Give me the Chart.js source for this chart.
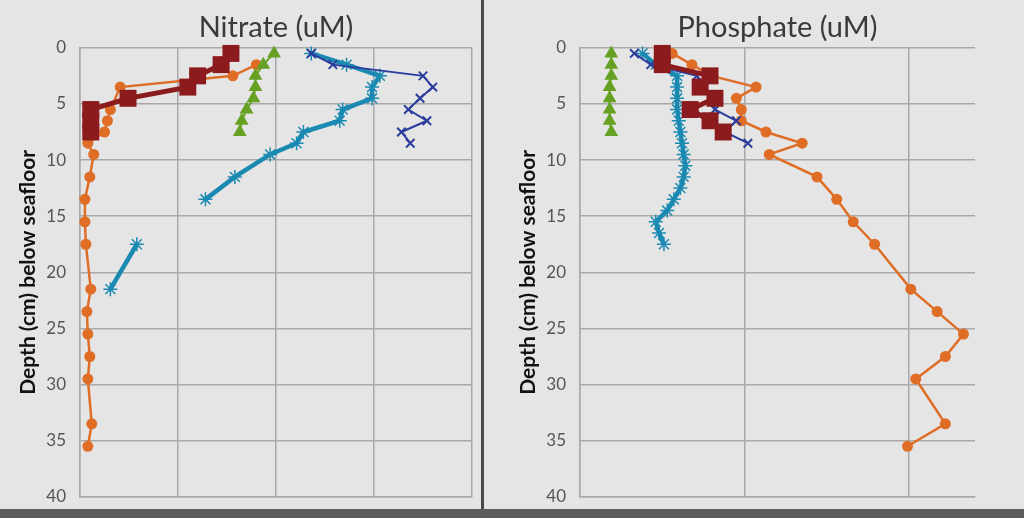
<!DOCTYPE html>
<html>
<head>
<meta charset="utf-8">
<script src="https://cdn.jsdelivr.net/npm/chart.js@4.4.1/dist/chart.umd.min.js"></script>
<style>
  html, body { margin: 0; padding: 0; }
  body { width: 1024px; height: 518px; background: #e5e5e5; position: relative; overflow: hidden; }
  .panel { position: absolute; top: 0; height: 521px; }
  #left { left: 0; width: 481px; }
  #right { left: 485px; width: 539px; }
  #divider { position: absolute; left: 481px; top: 0; width: 3px; height: 518px; background: #4a4a4a; }
  #strip { position: absolute; left: 0; top: 509px; width: 1024px; height: 9px; background: #5c5c5c; }
</style>
</head>
<body>
<div class="panel" id="left"><canvas id="nitrate"></canvas></div>
<div class="panel" id="right"><canvas id="phosphate"></canvas></div>
<div id="divider"></div>
<div id="strip"></div>
<script>
// depth (cm) categories
var depth8 = [0.5, 1.5, 2.5, 3.5, 4.5, 5.5, 6.5, 7.5];
var depth9 = [0.5, 1.5, 2.5, 3.5, 4.5, 5.5, 6.5, 7.5, 8.5];
var depthTicks = [0, 5, 10, 15, 20, 25, 30, 35, 40];

// Nitrate (uM)
var nitOrangeDepth = [1.5, 2.5, 3.5, 5.5, 6.5, 7.5, 8.5, 9.5, 11.5, 13.5, 15.5, 17.5, 21.5, 23.5, 25.5, 27.5, 29.5, 33.5, 35.5];
var nitOrange = [1.80, 1.56, 0.41, 0.31, 0.28, 0.25, 0.08, 0.14, 0.10, 0.05, 0.05, 0.06, 0.11, 0.07, 0.08, 0.10, 0.08, 0.12, 0.08];
var nitRed = [1.54, 1.44, 1.20, 1.10, 0.49, 0.11, 0.11, 0.11];
var nitGreen = [1.98, 1.87, 1.79, 1.79, 1.77, 1.70, 1.65, 1.63];
var nitNavy = [2.36, 2.58, 3.50, 3.60, 3.47, 3.35, 3.54, 3.28, 3.37];
var nitTealDepth = [0.5, 1.5, 2.5, 3.5, 4.5, 5.5, 6.5, 7.5, 8.5, 9.5, 11.5, 13.5, 15.5, 17.5, 21.5];
var nitTeal = [2.36, 2.72, 3.06, 2.98, 2.98, 2.68, 2.65, 2.28, 2.21, 1.94, 1.58, 1.28, null, 0.58, 0.31];

// Phosphate (uM)
var phosOrangeDepth = [0.5, 1.5, 2.5, 3.5, 4.5, 5.5, 6.5, 7.5, 8.5, 9.5, 11.5, 13.5, 15.5, 17.5, 21.5, 23.5, 25.5, 27.5, 29.5, 33.5, 35.5];
var phosOrange = [0.56, 0.68, 0.80, 1.07, 0.95, 0.98, 0.98, 1.13, 1.35, 1.15, 1.44, 1.56, 1.66, 1.79, 2.01, 2.17, 2.33, 2.22, 2.04, 2.22, 1.99];
var phosRed = [0.50, 0.50, 0.79, 0.73, 0.82, 0.67, 0.79, 0.87];
var phosGreen = [0.19, 0.19, 0.19, 0.18, 0.18, 0.18, 0.18, 0.19];
var phosNavy = [0.33, 0.43, 0.71, 0.74, 0.80, 0.82, 0.95, 0.88, 1.02];
var phosTealDepth = [0.5, 1.5, 2.5, 3.5, 4.5, 5.5, 6.5, 7.5, 8.5, 9.5, 10.5, 11.5, 12.5, 13.5, 14.5, 15.5, 16.5, 17.5];
var phosTeal = [0.38, 0.46, 0.59, 0.59, 0.59, 0.59, 0.60, 0.61, 0.62, 0.63, 0.64, 0.63, 0.61, 0.57, 0.53, 0.46, 0.48, 0.51];

var colors = {
    orange: '#df6d26',
    red: '#8c1b1d',
    green: '#66a123',
    navy: '#2c3d9c',
    teal: '#1b8ab2'
};

function pts(values, depths) {
    return values.map(function(v, i) { return { x: v, y: depths[i] }; });
}

function series(values, depths, color, style) {
    return Object.assign({
        data: pts(values, depths),
        showLine: true,
        borderColor: color,
        backgroundColor: color,
        pointBackgroundColor: color,
        pointBorderColor: color,
        spanGaps: false,
        clip: false
    }, style);
}

function buildDatasets(red, green, navy, teal, tealDepth, orange, orangeDepth) {
    // first dataset is painted last (on top)
    return [
        series(red, depth8, colors.red, { borderWidth: 5, pointStyle: 'rect', pointRadius: 12, pointBorderWidth: 0 }),
        series(green, depth8, colors.green, { borderWidth: 2, pointStyle: 'triangle', pointRadius: 8, pointBorderWidth: 0 }),
        series(navy, depth9, colors.navy, { borderWidth: 2, pointStyle: 'crossRot', pointRadius: 6, pointBorderWidth: 2 }),
        series(teal, tealDepth, colors.teal, { borderWidth: 4.5, pointStyle: 'star', pointRadius: 7, pointBorderWidth: 1.5 }),
        series(orange, orangeDepth, colors.orange, { borderWidth: 2.5, pointStyle: 'circle', pointRadius: 5.5, pointBorderWidth: 0 })
    ];
}

function makeConfig(title, xMax, datasets, axisWidth, rightPad, titlePad) {
    return {
        type: 'scatter',
        data: { datasets: datasets },
        options: {
            responsive: true,
            maintainAspectRatio: false,
            animation: false,
            layout: { autoPadding: false, padding: { left: 0, right: rightPad, top: 0, bottom: 0 } },
            plugins: {
                legend: { display: false },
                tooltip: { enabled: false },
                title: {
                    display: true,
                    fullSize: false,
                    text: title,
                    color: '#3a3a3a',
                    font: { family: 'Lato', size: 29, weight: 'normal' },
                    padding: { top: 10, bottom: 3 }
                }
            },
            scales: {
                x: {
                    type: 'linear',
                    min: 0,
                    max: xMax,
                    ticks: { display: false, stepSize: 1, includeBounds: false },
                    grid: { color: '#a9a9a9', lineWidth: 1.5, drawTicks: false },
                    border: { color: '#a9a9a9', width: 1.5 },
                    afterFit: function(scale) { scale.height = 13; }
                },
                y: {
                    type: 'linear',
                    reverse: true,
                    min: 0,
                    max: 40,
                    afterBuildTicks: function(scale) {
                        scale.ticks = depthTicks.map(function(v) { return { value: v }; });
                    },
                    ticks: {
                        color: '#555555',
                        font: { family: 'Lato', size: 17 },
                        padding: 14
                    },
                    grid: { color: '#a9a9a9', lineWidth: 1.5, drawTicks: false },
                    border: { color: '#a9a9a9', width: 1.5 },
                    title: {
                        display: true,
                        text: 'Depth (cm) below seafloor',
                        color: '#111111',
                        font: { family: 'Lato', size: 21, weight: 'bold' },
                        padding: { top: titlePad, bottom: 0 }
                    },
                    afterFit: function(scale) { scale.width = axisWidth; }
                }
            }
        }
    };
}

window.addEventListener('load', function() {
    var nitConfig = makeConfig('Nitrate (uM)', 4,
        buildDatasets(nitRed, nitGreen, nitNavy, nitTeal, nitTealDepth, nitOrange, nitOrangeDepth),
        80, 9, 16);
    var phosConfig = makeConfig('Phosphate (uM)', 2.4,
        buildDatasets(phosRed, phosGreen, phosNavy, phosTeal, phosTealDepth, phosOrange, phosOrangeDepth),
        95, 49, 31);

    window.NitrateChart = new Chart(document.getElementById('nitrate').getContext('2d'), nitConfig);
    window.PhosphateChart = new Chart(document.getElementById('phosphate').getContext('2d'), phosConfig);
});
</script>
</body>
</html>
